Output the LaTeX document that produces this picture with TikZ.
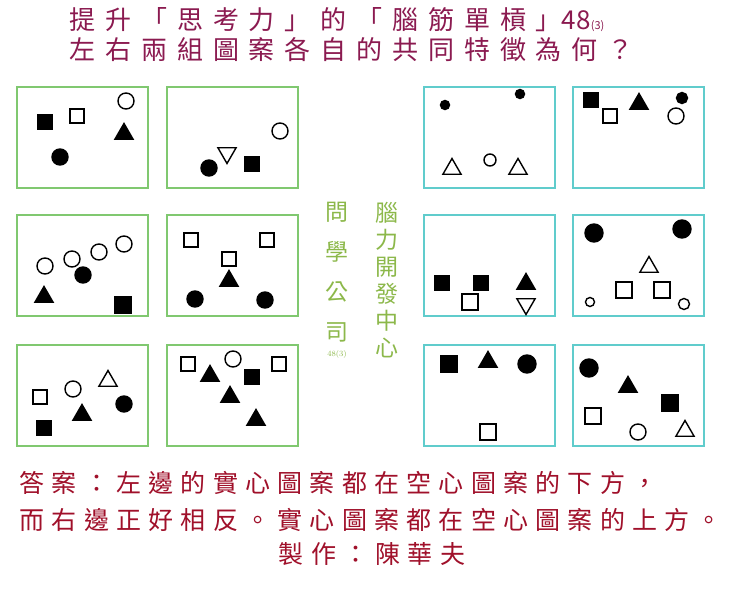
\documentclass[tikz,border=0pt]{standalone}
\usepackage{fontspec}
\newfontfamily\cjk{Noto Sans CJK TC}
\newfontfamily\cjksp[LetterSpace=29]{Noto Sans CJK TC}
\newfontfamily\cjkti[LetterSpace=38]{Noto Sans CJK TC}
\usetikzlibrary{shapes.geometric}
\definecolor{ttl}{HTML}{8B1A50}
\definecolor{ans}{HTML}{A0102A}
\definecolor{gbox}{HTML}{80C870}
\definecolor{cbox}{HTML}{60CCCC}
\definecolor{gtxt}{HTML}{8CB84A}
\tikzset{
 sq/.style={draw=black,line width=1.4pt,minimum size=14pt,inner sep=0pt},
 fsq/.style={sq,fill=black},
 ci/.style={circle,draw=black,line width=1.4pt,minimum size=16pt,inner sep=0pt},
 fci/.style={ci,fill=black},
 sci/.style={ci,minimum size=9pt},
 fsci/.style={sci,fill=black},
 tri/.style={regular polygon,regular polygon sides=3,draw=black,line width=1.4pt,minimum size=21pt,inner sep=0pt},
 ftri/.style={tri,fill=black},
 dtri/.style={tri,shape border rotate=180},
 gb/.style={draw=gbox,line width=2pt},
 cb/.style={draw=cbox,line width=2pt},
}
\begin{document}
\begin{tikzpicture}[x=1pt,y=-1pt]
\useasboundingbox (0,0) rectangle (740,592);
\fill[white] (0,0) rectangle (740,592);
% boxes
\foreach \x/\st in {17/gb,167/gb,424/cb,573/cb}{
 \foreach \y in {87,215,345}{
  \draw[\st] (\x,\y) rectangle ++(131,101);
 }}
% title
\node[text=ttl,font=\cjkti\fontsize{26}{26}\selectfont,anchor=west] (t1) at (66,20) {提升「思考力」的「腦筋單槓」{\cjk 48\fontsize{11}{11}\selectfont (3)}};
\node[text=ttl,font=\cjkti\fontsize{26}{26}\selectfont,anchor=west] (t2) at (66,50) {左右兩組圖案各自的共同特徵為何？};
% middle
\node[text=gtxt,font=\cjk\fontsize{23}{27}\selectfont,align=center,inner sep=0pt] (m1) at (387,280) {腦\\力\\開\\發\\中\\心};
\node[text=gtxt,font=\cjk\fontsize{23}{40}\selectfont,align=center,inner sep=0pt] (m2) at (337,272) {問\\學\\公\\司};
\node[text=gtxt,font=\fontsize{8}{8}\selectfont] (m3) at (337,354) {48(3)};
% P1
\node[fsq] (a1) at (45,122) {}; \node[sq] (a2) at (77,116) {}; \node[ci] (a3) at (126,101) {};
\node[ftri] (a4) at (124,134) {}; \node[fci] (a5) at (60,157) {};
% P2
\node[ci] (b1) at (280,131) {}; \node[dtri] (b2) at (227,153) {}; \node[fci] (b3) at (209,168) {}; \node[fsq] (b4) at (252,164) {};
% P3
\node[fsci] (c1) at (445,105) {}; \node[fsci] (c2) at (520,94) {}; \node[tri] (c3) at (452,169) {}; \node[ci,minimum size=12pt] (c4) at (490,160) {}; \node[tri] (c5) at (518,169) {};
% P4
\node[fsq] (d1) at (591,100) {}; \node[sq] (d2) at (610,116) {}; \node[ftri] (d3) at (639,104) {}; \node[fsci,minimum size=11pt] (d4) at (682,98) {}; \node[ci] (d5) at (676,116) {};
% P5
\node[ci] (e1) at (45,266) {}; \node[ci] (e2) at (72,259) {}; \node[ci] (e3) at (99,252) {}; \node[ci] (e4) at (124,244) {};
\node[fci] (e5) at (83,275) {}; \node[ftri] (e6) at (44,297) {}; \node[fsq,minimum size=16pt] (e7) at (123,305) {};
% P6
\node[sq] (f1) at (191,240) {}; \node[sq] (f2) at (267,240) {}; \node[sq] (f3) at (229,259) {};
\node[ftri] (f4) at (229,281) {}; \node[fci] (f5) at (195,299) {}; \node[fci] (f6) at (265,300) {};
% P7
\node[fsq] (g1) at (442,283) {}; \node[fsq] (g2) at (481,283) {}; \node[sq,minimum size=16pt] (g3) at (470,302) {};
\node[ftri] (g4) at (526,284) {}; \node[dtri] (g5) at (526,304) {};
% P8
\node[fci,minimum size=18pt] (h1) at (594,233) {}; \node[fci,minimum size=18pt] (h2) at (682,229) {}; \node[tri] (h3) at (649,267) {};
\node[sq,minimum size=16pt] (h4) at (624,290) {}; \node[sq,minimum size=16pt] (h5) at (662,290) {}; \node[sci] (h6) at (590,302) {}; \node[sci,minimum size=11pt] (h7) at (684,304) {};
% P9
\node[sq] (i1) at (40,397) {}; \node[ci] (i2) at (73,389) {}; \node[tri] (i3) at (108,381) {};
\node[ftri] (i4) at (82,415) {}; \node[fci] (i5) at (124,404) {}; \node[fsq] (i6) at (44,428) {};
% P10
\node[sq] (j1) at (188,364) {}; \node[sq] (j2) at (279,364) {}; \node[ci] (j3) at (233,359) {}; \node[fsq] (j4) at (252,377) {};
\node[ftri] (j5) at (210,376) {}; \node[ftri] (j6) at (230,397) {}; \node[ftri] (j7) at (256,420) {};
% P11
\node[fsq,minimum size=16pt] (k1) at (449,364) {}; \node[ftri] (k2) at (488,362) {}; \node[fci,minimum size=18pt] (k3) at (527,364) {}; \node[sq,minimum size=16pt] (k4) at (488,432) {};
% P12
\node[fci,minimum size=18pt] (l1) at (589,368) {}; \node[ftri] (l2) at (628,387) {}; \node[fsq,minimum size=16pt] (l3) at (670,403) {};
\node[sq,minimum size=16pt] (l4) at (593,416) {}; \node[ci] (l5) at (638,432) {}; \node[tri] (l6) at (685,431) {};
% answer
\node[text=ans,font=\cjksp\fontsize{25}{25}\selectfont,anchor=west] (n1) at (16,483) {答案：左邊的實心圖案都在空心圖案的下方，};
\node[text=ans,font=\cjksp\fontsize{25}{25}\selectfont,anchor=west] (n2) at (16,520) {而右邊正好相反。實心圖案都在空心圖案的上方。};
\node[text=ans,font=\cjksp\fontsize{25}{25}\selectfont] (n3) at (372,554) {製作：陳華夫};
\end{tikzpicture}
\end{document}
